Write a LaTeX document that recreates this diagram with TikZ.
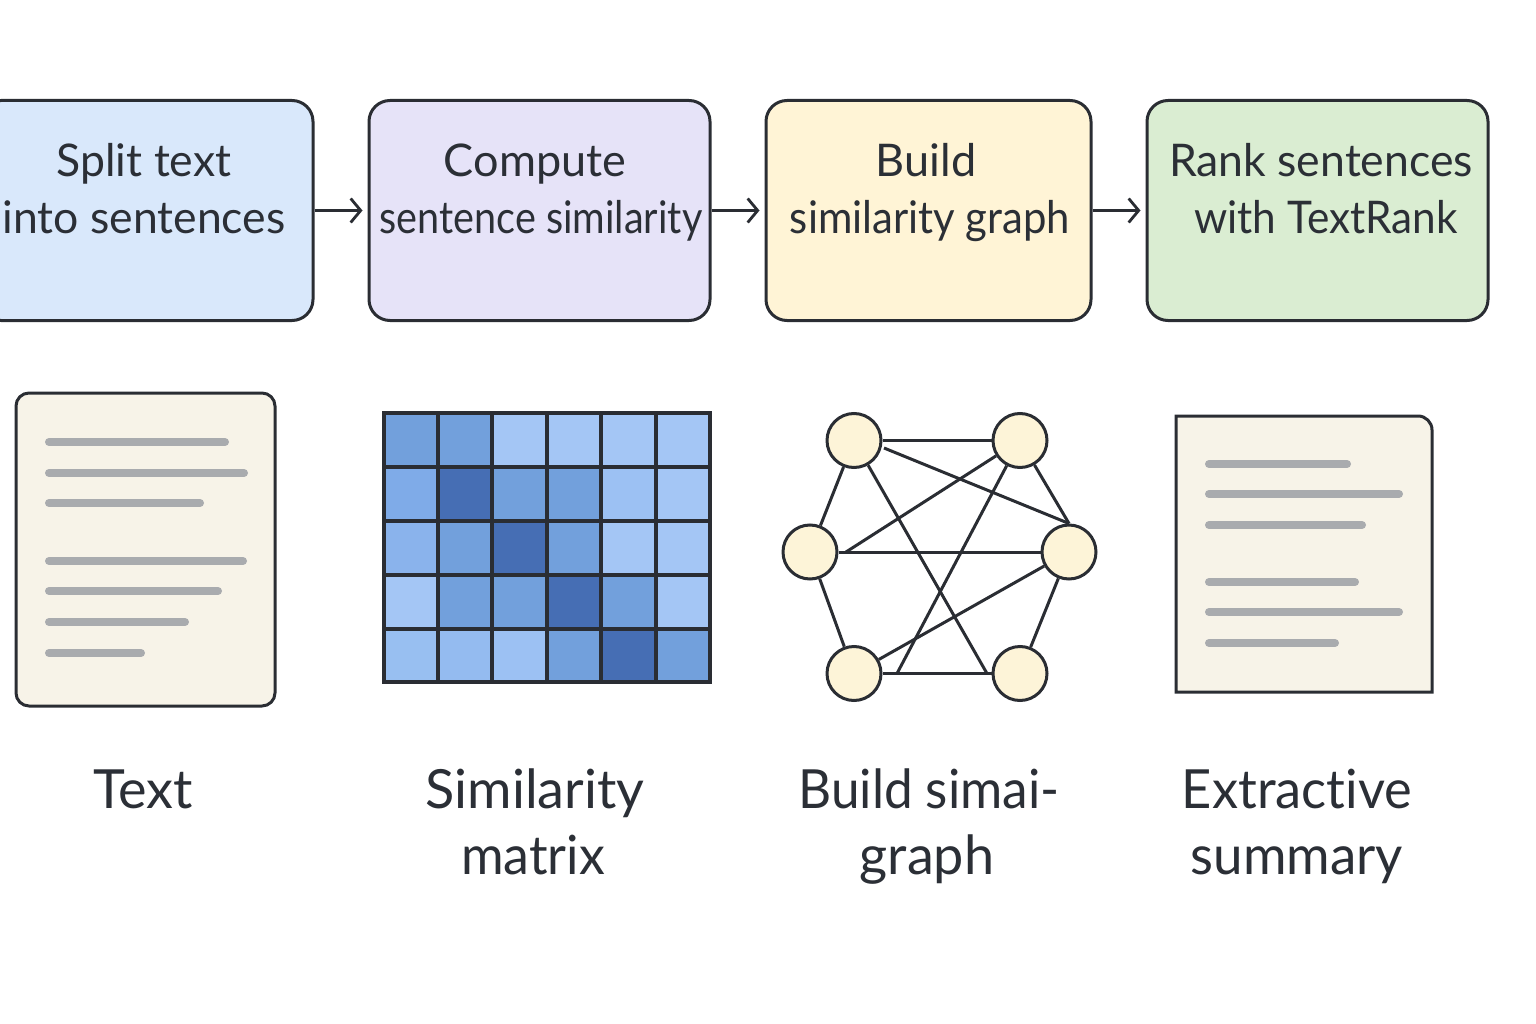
\documentclass[tikz,border=0pt]{standalone}
\usepackage{fontspec}
\setmainfont{Lato}[Ligatures=NoCommon]
\newcommand{\squeezed}[2]{{\addfontfeatures{FakeStretch=#1}#2}}
\definecolor{ink}{HTML}{2A2D33}
\definecolor{inktext}{HTML}{2B2F36}
\definecolor{paper}{HTML}{F7F3E8}
\definecolor{barc}{HTML}{A9ABAE}
\definecolor{nodec}{HTML}{FDF4D8}
\definecolor{cA}{HTML}{72A0DC}
\definecolor{cD}{HTML}{466EB4}
\definecolor{cL}{HTML}{A4C6F5}
\definecolor{cB}{HTML}{7FABE8}
\definecolor{cC}{HTML}{8AB3EC}
\definecolor{cE}{HTML}{98BFF1}
\definecolor{cF}{HTML}{94BBF0}
\definecolor{cG}{HTML}{9CC1F3}
\definecolor{boxA}{HTML}{D9E8FB}
\definecolor{boxB}{HTML}{E6E3F8}
\definecolor{boxC}{HTML}{FFF4D6}
\definecolor{boxD}{HTML}{DAEDD2}
\usetikzlibrary{arrows.meta}
\tikzset{
  x=1pt,y=-1pt,
  stagebox/.style={draw=ink,line width=3pt,rounded corners=21pt,minimum height=220pt,inner sep=0pt},
  toplabel/.style={text=inktext,align=center,anchor=base,font=\fontsize{45}{57}\selectfont,inner sep=0pt},
  botlabel/.style={text=inktext,align=center,anchor=base,font=\fontsize{54}{66}\selectfont,inner sep=0pt},
  flow/.style={draw=ink,line width=2.8pt,-{Straight Barb[length=10pt,width=24pt,line width=2.8pt]},shorten >=5pt},
  gnode/.style={circle,draw=ink,fill=nodec,line width=3pt,minimum size=54pt,inner sep=0pt},
  gedge/.style={draw=ink,line width=3pt},
  bar/.style={draw=barc,line width=8pt,line cap=round},
  cell/.style={draw=ink,line width=3.4pt},
}
\begin{document}
\begin{tikzpicture}
\useasboundingbox (0,0) rectangle (1536,1024);
\begin{scope}
\clip (0,0) rectangle (1536,1024);
\node[stagebox,fill=boxA,minimum width=333pt] (b1) at (146.5,210.5) {};
\node[stagebox,fill=boxB,minimum width=341pt] (b2) at (539.5,210.5) {};
\node[stagebox,fill=boxC,minimum width=325pt] (b3) at (928.5,210.5) {};
\node[stagebox,fill=boxD,minimum width=341pt] (b4) at (1317.5,210.5) {};
\end{scope}
\node[toplabel] (t1) at (144,234) {\squeezed{0.99}{Split text}\\\squeezed{0.99}{into sentences}};
\node[toplabel] (t2) at (541,234) {\hspace*{-12pt}Compute\\\squeezed{0.88}{sentence similarity}};
\node[toplabel] (t3) at (930,234) {\hspace*{-8pt}Build\\\squeezed{0.93}{similarity graph}};
\node[toplabel] (t4) at (1324,234) {\hspace*{-6pt}\squeezed{0.99}{Rank sentences}\\\hspace*{4pt}\squeezed{0.94}{with TextRank}};
\draw[flow] (b1.east) -- (b2.west);
\draw[flow] (b2.east) -- (b3.west);
\draw[flow] (b3.east) -- (b4.west);

% text document
\draw[ink,line width=3pt,fill=paper,rounded corners=13pt] (16,393) rectangle (275,706);
\foreach \yy/\xx in {442/225,473/244,503/200,561/243,591/218,622/185,653/141}
  \draw[bar] (49,\yy) -- (\xx,\yy);

% similarity matrix
\foreach \row/\ya/\yb/\cols in {
  1/413/467/{cA,cA,cL,cL,cL,cL},
  2/467/521/{cB,cD,cA,cA,cG,cL},
  3/521/575/{cC,cA,cD,cA,cL,cL},
  4/575/629/{cL,cA,cA,cD,cA,cL},
  5/629/682/{cE,cF,cG,cA,cD,cA}}{
  \foreach \c [count=\i] in \cols {
    \pgfmathsetmacro{\xa}{{384,438,492,547,601,656}[\i-1]}
    \pgfmathsetmacro{\xb}{{438,492,547,601,656,710}[\i-1]}
    \draw[cell,fill=\c] (\xa,\ya) rectangle (\xb,\yb);
  }
}

% graph
\coordinate (endA) at (846,552);
\coordinate (endB) at (897,673.5);
\coordinate (endC) at (987,673.5);
\coordinate (startD) at (884,448);
\node[gnode] (tl) at (854,440.5) {};
\node[gnode] (tr) at (1020,440.5) {};
\node[gnode] (ml) at (810,552) {};
\node[gnode] (mr) at (1069,552) {};
\node[gnode] (bl) at (854,673.5) {};
\node[gnode] (br) at (1020,673.5) {};
\draw[gedge] (tl) -- (tr);
\draw[gedge] (startD) -- (mr.north);
\draw[gedge] (tl) -- (ml);
\draw[gedge] (tl) -- (endC);
\draw[gedge] (tr) -- (endA);
\draw[gedge] (tr) -- (endB);
\draw[gedge] (tr) -- (mr.north);
\draw[gedge] (ml) -- (mr);
\draw[gedge] (ml) -- (bl);
\draw[gedge] (mr) -- (bl);
\draw[gedge] (mr) -- (br);
\draw[gedge] (bl) -- (br);

% summary document
\draw[ink,line width=3pt,fill=paper] (1176,416) -- (1418,416) arc[start angle=90,end angle=0,radius=14pt] -- (1432,692) -- (1176,692) -- cycle;
\foreach \yy/\xx in {464/1347,494/1399,525/1362,582/1355,612/1399,643/1335}
  \draw[bar] (1209,\yy) -- (\xx,\yy);

% bottom labels
\node[botlabel] (l1) at (143,808) {Text};
\node[botlabel] (l2) at (533,874) {\hspace*{4pt}Similarity\\\squeezed{0.96}{matrix}};
\node[botlabel] (l3) at (927,874) {\hspace*{4pt}\squeezed{0.95}{Build simai-}\\graph};
\node[botlabel] (l4) at (1297,874) {\squeezed{0.97}{Extractive}\\\squeezed{0.98}{summary}};
\end{tikzpicture}
\end{document}
